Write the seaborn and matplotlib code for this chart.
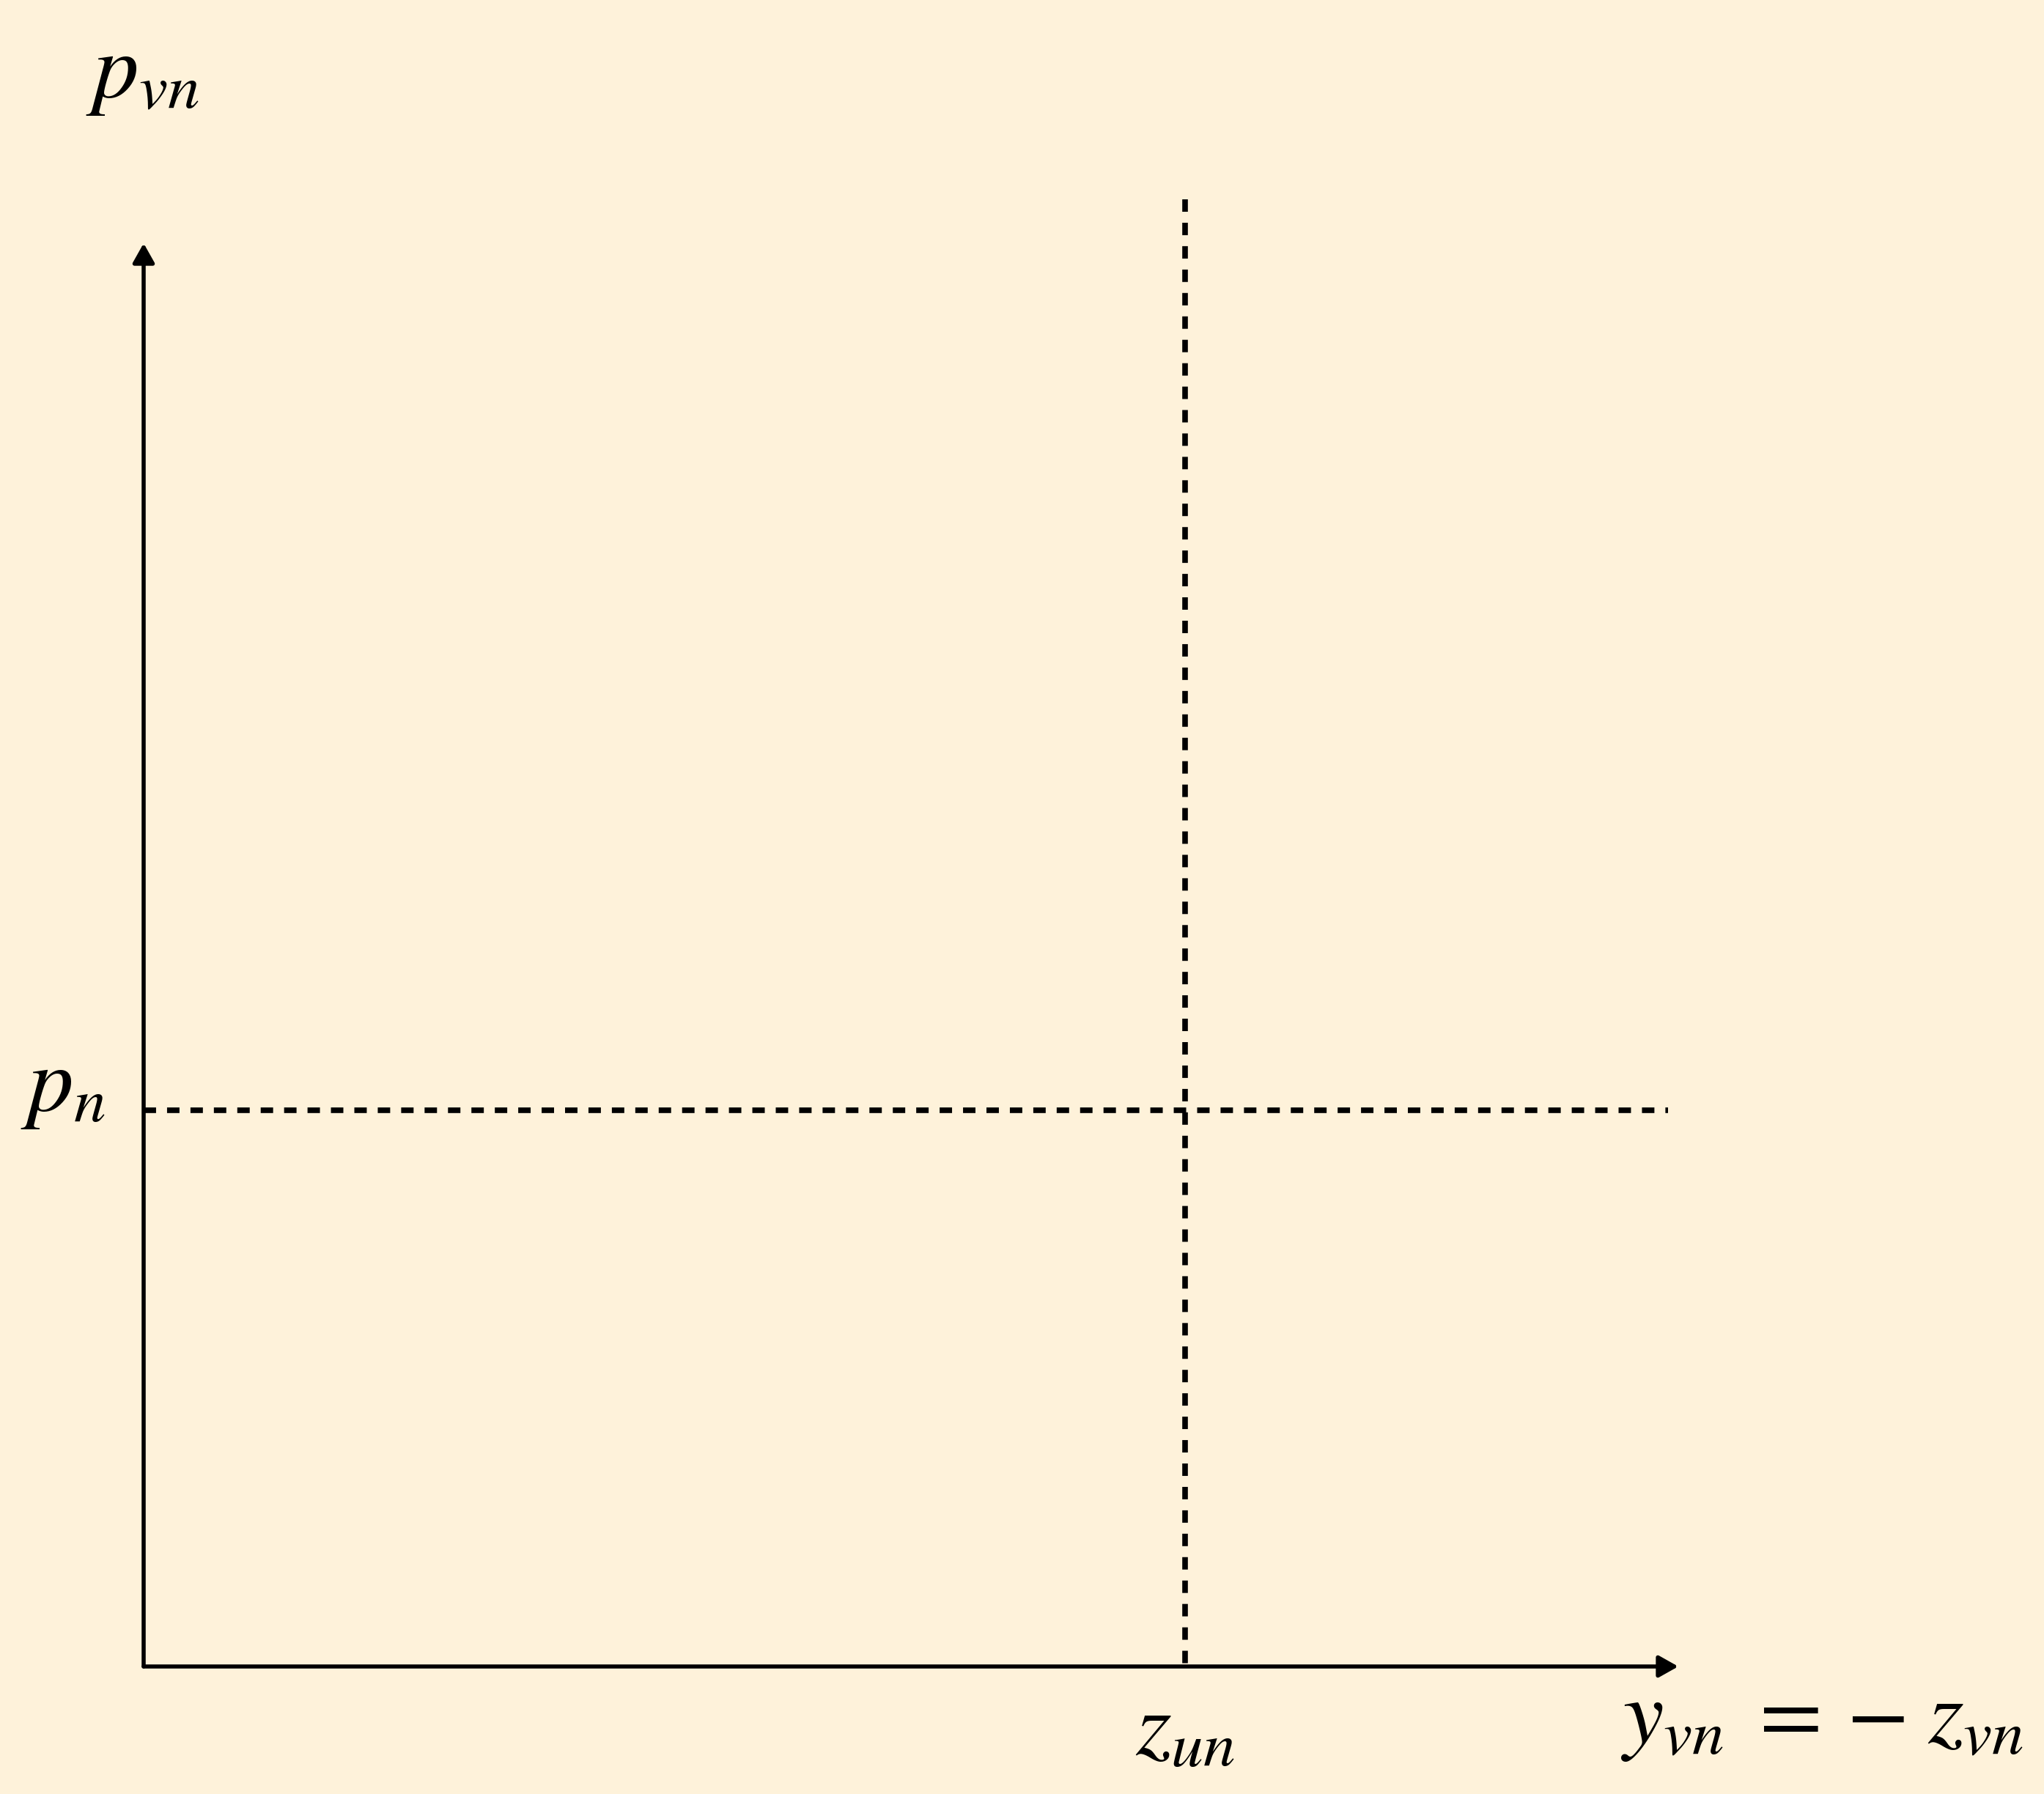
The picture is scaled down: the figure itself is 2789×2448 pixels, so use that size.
import matplotlib
matplotlib.use("Agg")
import matplotlib.pyplot as plt
import seaborn as sns
import pandas as pd

# dados do diagrama (coordenadas normalizadas: eixo x 0..1, eixo y 0..1)
z_un = 0.6786          # posicao da linha vertical tracejada
p_n = 0.3908           # nivel da linha horizontal tracejada
x_fim_tracejado = 0.9933
y_topo_tracejado = 1.031

rotulo_eixo_y = r"$p_{vn}$"
rotulo_eixo_x = r"$y_{vn}\;{=}\,{-}\;z_{vn}$"
rotulo_p_n = r"$p_n$"
rotulo_z_un = r"$z_{un}$"

fundo = "#FEF2DA"

sns.set_style("white", {"axes.facecolor": fundo, "figure.facecolor": fundo})
plt.rcParams["mathtext.fontset"] = "stix"
plt.rcParams["font.family"] = ["STIXGeneral", "DejaVu Serif"]
plt.rcParams["text.color"] = "black"

W, H = 2789, 2448
fig = plt.figure(figsize=(W / 100, H / 100), dpi=100)

# eixo: origem em (196, 2274) px, ponta x em 2290 px, ponta y em 332 px
x0, y0, x1, y1 = 196, 2274, 2290, 332
ax = fig.add_axes([x0 / W, 1 - y0 / H, (x1 - x0) / W, (y0 - y1) / H])
ax.set_xlim(0, 1)
ax.set_ylim(0, 1)
ax.axis("off")

# linhas tracejadas
vertical = pd.DataFrame({"x": [z_un, z_un], "y": [y_topo_tracejado, 0]})
horizontal = pd.DataFrame({"x": [0, x_fim_tracejado], "y": [p_n, p_n]})
for df in (vertical, horizontal):
    sns.lineplot(data=df, x="x", y="y", sort=False, ax=ax, color="black",
                 linewidth=5.5, estimator=None)
for l in ax.lines:
    l.set_dashes([12.2 / 5.5, 10.8 / 5.5])
    l.set_clip_on(False)
    l.set_dash_capstyle("butt")

# eixos com setas
seta = dict(arrowstyle="-|>,head_length=16,head_width=9", mutation_scale=1,
            color="black", linewidth=4, shrinkA=0, shrinkB=0)
ax.annotate("", xy=(1, 0), xytext=(0, 0), arrowprops=seta, annotation_clip=False)
ax.annotate("", xy=(0, 1), xytext=(0, 0), arrowprops=seta, annotation_clip=False)

tam = 90
cor = "black"
fig.text(117 / W, 1 - 132 / H, rotulo_eixo_y, fontsize=tam, color=cor, ha="left", va="baseline")
fig.text(28 / W, 1 - 1515 / H, rotulo_p_n, fontsize=tam, color=cor, ha="left", va="baseline")
fig.text(1549 / W, 1 - 2395 / H, rotulo_z_un, fontsize=tam, color=cor, ha="left", va="baseline")
fig.text(2211 / W, 1 - 2378 / H, rotulo_eixo_x, fontsize=tam, color=cor, ha="left", va="baseline")

fig.savefig("out.png", dpi=100, facecolor=fundo)
